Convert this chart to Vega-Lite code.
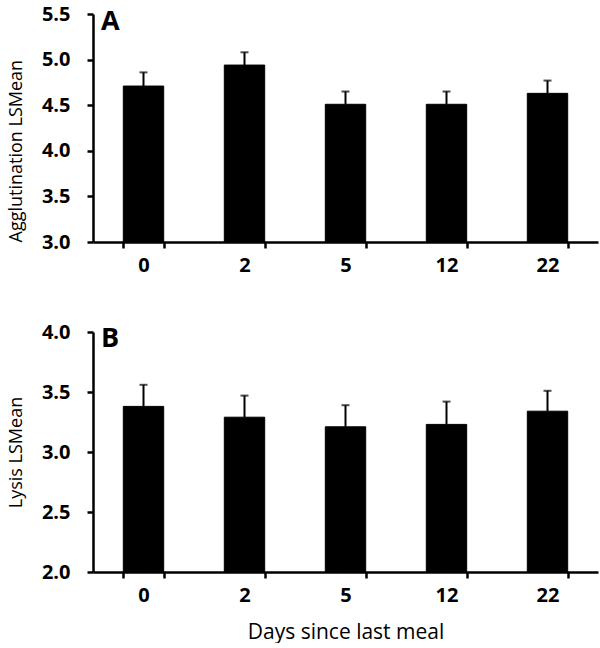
{
  "$schema": "https://vega.github.io/schema/vega-lite/v6.json",
  "background": "white",
  "padding": {"left": 7, "top": 4, "right": 3, "bottom": 1},
  "bounds": "flush",
  "spacing": 90,
  "config": {
    "view": {"stroke": null},
    "font": "Open Sans",
    "axis": {
      "grid": false,
      "domainColor": "black",
      "domainWidth": 2.5,
      "tickColor": "black",
      "tickWidth": 2.5,
      "tickSize": 6,
      "labelColor": "black",
      "labelFont": "Open Sans",
      "labelFontWeight": "bold",
      "labelFontSize": 20,
      "titleColor": "black",
      "titleFont": "Open Sans",
      "titleFontWeight": "normal",
      "titleFontSize": 18
    },
    "scale": {"bandPaddingInner": 0.6, "bandPaddingOuter": 0.3},
    "title": {"font": "Open Sans", "fontSize": 27, "fontWeight": "bold", "color": "black", "anchor": "start", "frame": "group", "baseline": "alphabetic"}
  },
  "data": {
    "values": [
      {"panel": "A", "day": "0", "mean": 4.71, "upper": 4.86},
      {"panel": "A", "day": "2", "mean": 4.94, "upper": 5.08},
      {"panel": "A", "day": "5", "mean": 4.51, "upper": 4.65},
      {"panel": "A", "day": "12", "mean": 4.51, "upper": 4.65},
      {"panel": "A", "day": "22", "mean": 4.63, "upper": 4.77},
      {"panel": "B", "day": "0", "mean": 3.38, "upper": 3.56},
      {"panel": "B", "day": "2", "mean": 3.29, "upper": 3.47},
      {"panel": "B", "day": "5", "mean": 3.21, "upper": 3.39},
      {"panel": "B", "day": "12", "mean": 3.23, "upper": 3.42},
      {"panel": "B", "day": "22", "mean": 3.34, "upper": 3.51}
    ]
  },
  "vconcat": [
    {
      "width": 505,
      "height": 228,
      "title": {"text": "A", "dx": 8, "offset": -32},
      "transform": [{"filter": "datum.panel === 'A'"}],
      "encoding": {
        "x": {"field": "day", "type": "nominal", "sort": ["0", "2", "5", "12", "22"],
              "axis": {"title": null, "labelAngle": 0, "tickBand": "extent", "labelPadding": 7}}
      },
      "layer": [
        {
          "mark": {"type": "rule", "color": "black", "strokeWidth": 2},
          "encoding": {
            "y": {"field": "mean", "type": "quantitative"},
            "y2": {"field": "upper"}
          }
        },
        {
          "mark": {"type": "tick", "color": "black", "thickness": 2, "size": 8},
          "encoding": {
            "y": {"field": "upper", "type": "quantitative"}
          }
        },
        {
          "mark": {"type": "bar", "color": "black", "stroke": "black", "strokeWidth": 1},
          "encoding": {
            "y": {"field": "mean", "type": "quantitative",
                  "scale": {"domain": [3, 5.5], "zero": false, "nice": false},
                  "axis": {"title": "Agglutination LSMean", "values": [3, 3.5, 4, 4.5, 5, 5.5], "format": ".1f",
                           "labelPadding": 17, "titlePadding": 16, "titleAnchor": "start"}},
            "y2": {"datum": 3}
          }
        }
      ]
    },
    {
      "width": 505,
      "height": 240,
      "title": {"text": "B", "dx": 8, "offset": -31},
      "transform": [{"filter": "datum.panel === 'B'"}],
      "encoding": {
        "x": {"field": "day", "type": "nominal", "sort": ["0", "2", "5", "12", "22"],
              "axis": {"title": "Days since last meal", "titleFontSize": 21, "labelAngle": 0, "tickBand": "extent", "labelPadding": 7, "titlePadding": 16}}
      },
      "layer": [
        {
          "mark": {"type": "rule", "color": "black", "strokeWidth": 2},
          "encoding": {
            "y": {"field": "mean", "type": "quantitative"},
            "y2": {"field": "upper"}
          }
        },
        {
          "mark": {"type": "tick", "color": "black", "thickness": 2, "size": 8},
          "encoding": {
            "y": {"field": "upper", "type": "quantitative"}
          }
        },
        {
          "mark": {"type": "bar", "color": "black", "stroke": "black", "strokeWidth": 1},
          "encoding": {
            "y": {"field": "mean", "type": "quantitative",
                  "scale": {"domain": [2, 4], "zero": false, "nice": false},
                  "axis": {"title": "Lysis LSMean", "values": [2, 2.5, 3, 3.5, 4], "format": ".1f",
                           "labelPadding": 17, "titlePadding": 16}},
            "y2": {"datum": 2}
          }
        }
      ]
    }
  ]
}
